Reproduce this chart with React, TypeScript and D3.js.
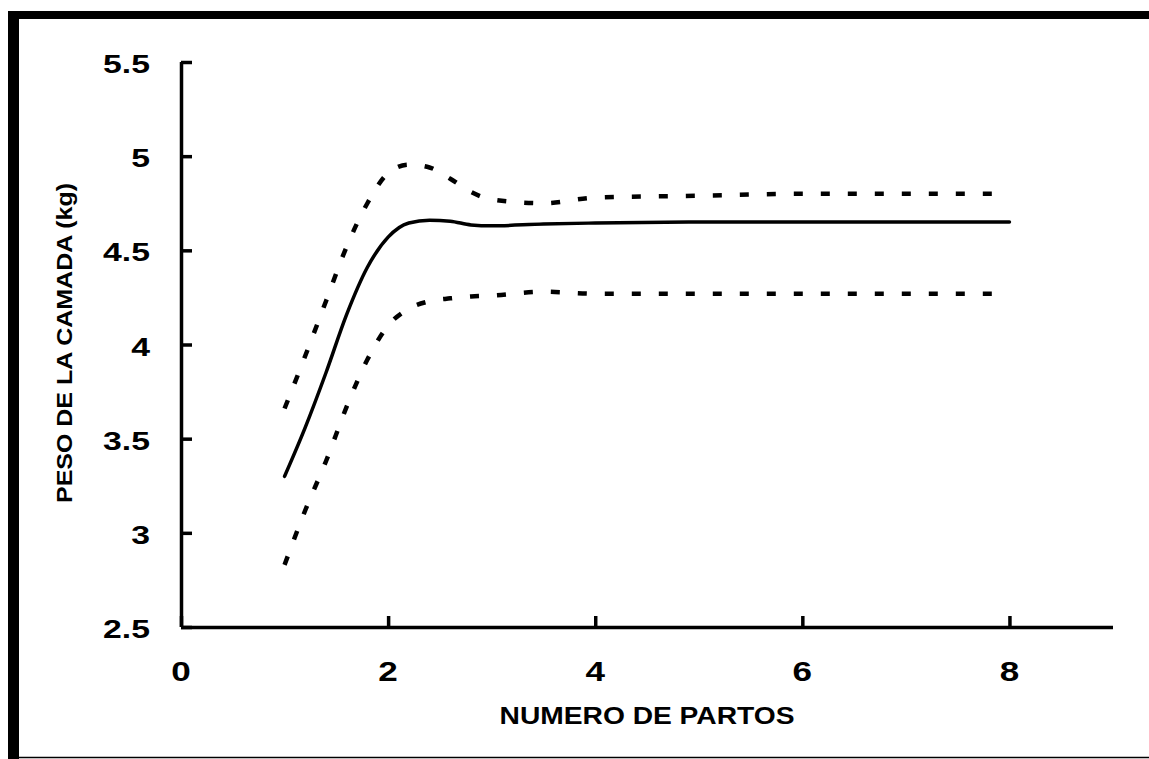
import React, { useEffect, useRef } from 'react';
import * as d3 from 'd3';

// numero de partos
const partos = [1, 1.2, 1.4, 1.6, 1.8, 2, 2.2, 2.4, 2.6, 2.8, 3, 3.5, 4, 5, 6, 7, 8];
// peso medio de la camada (kg)
const pesoMedio = [3.3, 3.56, 3.85, 4.16, 4.41, 4.57, 4.645, 4.66, 4.655, 4.635, 4.63, 4.64, 4.645, 4.65, 4.65, 4.65, 4.65];
// limite superior
const limiteSup = [3.66, 3.94, 4.23, 4.52, 4.75, 4.91, 4.955, 4.94, 4.88, 4.81, 4.77, 4.75, 4.78, 4.79, 4.8, 4.8, 4.8];
// limite inferior
const limiteInf = [2.83, 3.12, 3.38, 3.67, 3.92, 4.1, 4.19, 4.23, 4.245, 4.255, 4.26, 4.28, 4.27, 4.27, 4.27, 4.27, 4.27];

const xTicks = [0, 2, 4, 6, 8];
const yTicks = [2.5, 3, 3.5, 4, 4.5, 5, 5.5];

const FONT = '"Liberation Sans", Arial, Helvetica, sans-serif';
const W = 1149;
const H = 759;

function App() {
  const ref = useRef<SVGSVGElement>(null);

  useEffect(() => {
    document.documentElement.style.overflow = 'hidden';
    document.body.style.overflow = 'hidden';
    document.body.style.margin = '0';

    const svg = d3.select(ref.current);
    svg.selectAll('*').remove();

    const left = 181;
    const right = 1113;
    const top = 62;
    const bottom = 627;

    const x = d3.scaleLinear().domain([0, 9]).range([left, right]);
    const y = d3.scaleLinear().domain([2.5, 5.5]).range([bottom, top]);

    // marco
    svg.append('rect').attr('x', 8).attr('y', 11).attr('width', 11).attr('height', H - 11).attr('fill', '#000');
    svg.append('rect').attr('x', 8).attr('y', 11).attr('width', W - 8).attr('height', 8).attr('fill', '#000');
    svg.append('line')
      .attr('x1', 19).attr('x2', W).attr('y1', 757.5).attr('y2', 757.5)
      .attr('stroke', '#000').attr('stroke-width', 1.5);

    // ejes
    const gy = svg.append('g')
      .attr('transform', `translate(${left},0)`)
      .call(d3.axisLeft(y).tickValues(yTicks).tickSize(-11).tickFormat(() => ''));
    const gx = svg.append('g')
      .attr('transform', `translate(0,${bottom})`)
      .call(d3.axisBottom(x).tickValues(xTicks).tickSize(-11).tickFormat(() => ''));

    [gx, gy].forEach((g) => {
      g.select('.domain').attr('stroke', '#000').attr('stroke-width', 3.5);
      g.selectAll('.tick line').attr('stroke', '#000').attr('stroke-width', 3.5);
    });
    gy.select('.domain').attr('d', `M0.5,${top}V${bottom}`);
    gx.select('.domain').attr('d', `M${left},0.5H${right}`);

    // etiquetas
    yTicks.forEach((t) => {
      svg.append('text')
        .attr('transform', `translate(150,${y(t) + 11}) scale(1.35,1)`)
        .attr('text-anchor', 'end')
        .attr('font-family', FONT)
        .attr('font-weight', 'bold')
        .attr('font-size', 25)
        .text(String(t));
    });
    xTicks.forEach((t) => {
      svg.append('text')
        .attr('transform', `translate(${x(t)},${bottom + 54}) scale(1.3,1)`)
        .attr('text-anchor', 'middle')
        .attr('font-family', FONT)
        .attr('font-weight', 'bold')
        .attr('font-size', 27)
        .text(String(t));
    });

    svg.append('text')
      .attr('transform', `translate(${(left + right) / 2},724) scale(1.2,1)`)
      .attr('text-anchor', 'middle')
      .attr('font-family', FONT)
      .attr('font-weight', 'bold')
      .attr('font-size', 23.5)
      .text('NUMERO DE PARTOS');

    svg.append('text')
      .attr('transform', 'translate(72,343) rotate(-90)')
      .attr('text-anchor', 'middle')
      .attr('font-family', FONT)
      .attr('font-weight', 'bold')
      .attr('font-size', 22)
      .attr('textLength', 320)
      .attr('lengthAdjust', 'spacingAndGlyphs')
      .text('PESO DE LA CAMADA (kg)');

    // curvas
    const line = d3.line<number>()
      .x((_, i) => x(partos[i]))
      .y((d) => y(d))
      .curve(d3.curveMonotoneX);

    [limiteSup, limiteInf].forEach((serie) => {
      svg.append('path')
        .datum(serie)
        .attr('fill', 'none')
        .attr('stroke', '#000')
        .attr('stroke-width', 4.5)
        .attr('stroke-dasharray', '9,18')
        .attr('d', line);
    });

    svg.append('path')
      .datum(pesoMedio)
      .attr('fill', 'none')
      .attr('stroke', '#000')
      .attr('stroke-width', 3.5)
      .attr('stroke-linecap', 'round')
      .attr('stroke-linejoin', 'round')
      .attr('d', line);
  }, []);

  return (
    <svg
      ref={ref}
      width={W}
      height={H}
      style={{ position: 'fixed', left: 0, top: 0, display: 'block', background: '#fff' }}
    />
  );
}

export default App;
